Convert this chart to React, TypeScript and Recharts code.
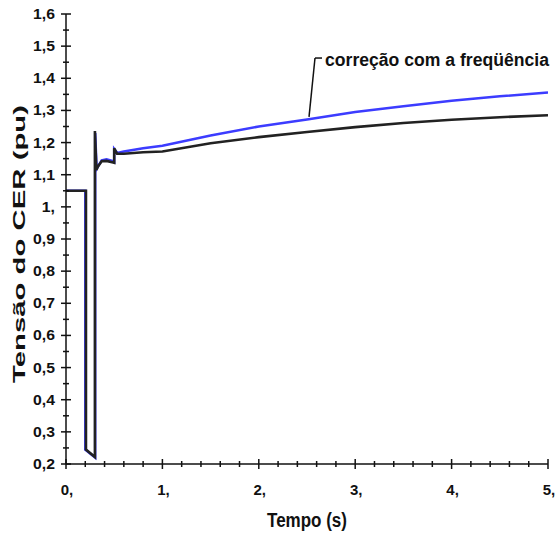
import React from 'react';
import { LineChart, Line, XAxis, YAxis, ReferenceLine, Customized } from 'recharts';

// ---- data ----
const xTicks = [0, 0.2, 0.4, 0.6, 0.8, 1, 1.2, 1.4, 1.6, 1.8, 2, 2.2, 2.4, 2.6, 2.8, 3, 3.2, 3.4, 3.6, 3.8, 4, 4.2, 4.4, 4.6, 4.8, 5];
const xMajorTicks = [0, 1, 2, 3, 4, 5];
const xTickLabels = ['0,', '1,', '2,', '3,', '4,', '5,'];

const yTicks = [0.2, 0.25, 0.3, 0.35, 0.4, 0.45, 0.5, 0.55, 0.6, 0.65, 0.7, 0.75, 0.8, 0.85, 0.9, 0.95, 1, 1.05, 1.1, 1.15, 1.2, 1.25, 1.3, 1.35, 1.4, 1.45, 1.5, 1.55, 1.6];
const yMajorTicks = [0.2, 0.3, 0.4, 0.5, 0.6, 0.7, 0.8, 0.9, 1, 1.1, 1.2, 1.3, 1.4, 1.5, 1.6];
const yTickLabels = ['0,2', '0,3', '0,4', '0,5', '0,6', '0,7', '0,8', '0,9', '1,', '1,1', '1,2', '1,3', '1,4', '1,5', '1,6'];

// time (s)
const blueTime = [0, 0.2, 0.2, 0.303, 0.303, 0.318, 0.34, 0.37, 0.42, 0.49, 0.5, 0.5, 0.53, 0.6, 0.8, 1, 1.5, 2, 2.5, 3, 3.5, 4, 4.5, 5];
// voltage (pu) - with frequency correction
const blueVolt = [1.05, 1.05, 0.245, 0.22, 1.23, 1.118, 1.13, 1.145, 1.148, 1.142, 1.14, 1.18, 1.168, 1.172, 1.182, 1.19, 1.222, 1.25, 1.272, 1.295, 1.313, 1.33, 1.344, 1.356];

const blackTime = [0, 0.207, 0.207, 0.3, 0.3, 0.315, 0.33, 0.37, 0.42, 0.49, 0.5, 0.5, 0.53, 0.6, 0.8, 1, 1.5, 2, 2.5, 3, 3.5, 4, 4.5, 5];
const blackVolt = [1.05, 1.05, 0.245, 0.222, 1.236, 1.115, 1.125, 1.142, 1.143, 1.138, 1.137, 1.182, 1.165, 1.165, 1.17, 1.172, 1.198, 1.217, 1.233, 1.248, 1.261, 1.271, 1.279, 1.285];

const annotationText = 'correção com a freqüência';
const xTitle = 'Tempo (s)';
const yTitle = 'Tensão do CER (pu)';

const blueData = blueTime.map((t, i) => ({ t, v: blueVolt[i] }));
const blackData = blackTime.map((t, i) => ({ t, v: blackVolt[i] }));

const FONT = '"Liberation Sans", Arial, sans-serif';

const labelWidth = (s: string, size: number) =>
  s.split('').reduce((w, c) => w + (c === ',' ? 0.278 : 0.556), 0) * size;

const XTick = (props: any) => {
  const { x, y, payload } = props;
  const v = payload.value;
  const idx = xMajorTicks.findIndex((m) => Math.abs(m - v) < 1e-6);
  const major = idx >= 0;
  const h = major ? 5 : 3;
  return (
    <g>
      <line x1={x} x2={x} y1={y - h} y2={y + h} stroke="#111" strokeWidth={1.5} />
      {major && (
        <text x={x + 1} y={y + 31} textAnchor="middle" fontFamily={FONT} fontWeight="bold" fontSize={15} fill="#111">
          {xTickLabels[idx]}
        </text>
      )}
    </g>
  );
};

const YTick = (props: any) => {
  const { x, y, payload } = props;
  const v = payload.value;
  const idx = yMajorTicks.findIndex((m) => Math.abs(m - v) < 1e-6);
  const major = idx >= 0;
  const h = major ? 5 : 3;
  const label = major ? yTickLabels[idx] : '';
  return (
    <g>
      <line x1={x - h} x2={x + h} y1={y} y2={y} stroke="#111" strokeWidth={1.5} />
      {major && (
        <text
          x={x - 11}
          y={y + 5}
          textAnchor="end"
          fontFamily={FONT}
          fontWeight="bold"
          fontSize={15}
          fill="#111"
          textLength={labelWidth(label, 15) * 1.05}
          lengthAdjust="spacingAndGlyphs"
        >
          {label}
        </text>
      )}
    </g>
  );
};

const Titles = () => (
  <g>
    <text
      x={267}
      y={527}
      fontFamily={FONT}
      fontWeight="bold"
      fontSize={20}
      fill="#111"
      textLength={80}
      lengthAdjust="spacingAndGlyphs"
    >
      {xTitle}
    </text>
    <text
      transform="translate(25,383) rotate(-90)"
      x={0}
      y={0}
      fontFamily={FONT}
      fontWeight="bold"
      fontSize={17}
      fill="#111"
      textLength={278}
      lengthAdjust="spacingAndGlyphs"
    >
      {yTitle}
    </text>
    <text
      x={325}
      y={66}
      fontFamily={FONT}
      fontWeight="bold"
      fontSize={18}
      fill="#111"
      textLength={224}
      lengthAdjust="spacingAndGlyphs"
    >
      {annotationText}
    </text>
  </g>
);

export default function App() {
  return (
    <div style={{ position: 'absolute', left: 0, top: 0, background: '#fff' }}>
      <LineChart width={555} height={535} margin={{ top: 14, right: 7, bottom: 0, left: 0 }}>
        <XAxis
          type="number"
          dataKey="t"
          domain={[0, 5]}
          ticks={xTicks}
          interval={0}
          tickSize={0}
          tickMargin={0}
          tick={<XTick />}
          height={71}
          axisLine={{ stroke: '#111', strokeWidth: 1.5 }}
          tickLine={false}
          allowDataOverflow
        />
        <YAxis
          type="number"
          dataKey="v"
          domain={[0.2, 1.6]}
          ticks={yTicks}
          interval={0}
          tickSize={0}
          tickMargin={0}
          tick={<YTick />}
          width={66}
          axisLine={{ stroke: '#111', strokeWidth: 1.5 }}
          tickLine={false}
          allowDataOverflow
        />
        <Line
          data={blueData}
          dataKey="v"
          type="linear"
          stroke="#3c3cff"
          strokeWidth={2.5}
          dot={false}
          activeDot={false}
          isAnimationActive={false}
        />
        <Line
          data={blackData}
          dataKey="v"
          type="linear"
          stroke="#222222"
          strokeWidth={2.6}
          dot={false}
          activeDot={false}
          isAnimationActive={false}
        />
        <ReferenceLine
          segment={[{ x: 2.583, y: 1.463 }, { x: 2.656, y: 1.463 }]}
          stroke="#111"
          strokeWidth={1.5}
          ifOverflow="visible"
        />
        <ReferenceLine
          segment={[{ x: 2.583, y: 1.463 }, { x: 2.521, y: 1.28 }]}
          stroke="#111"
          strokeWidth={1.5}
          ifOverflow="visible"
        />
        <Customized component={Titles} />
      </LineChart>
    </div>
  );
}
